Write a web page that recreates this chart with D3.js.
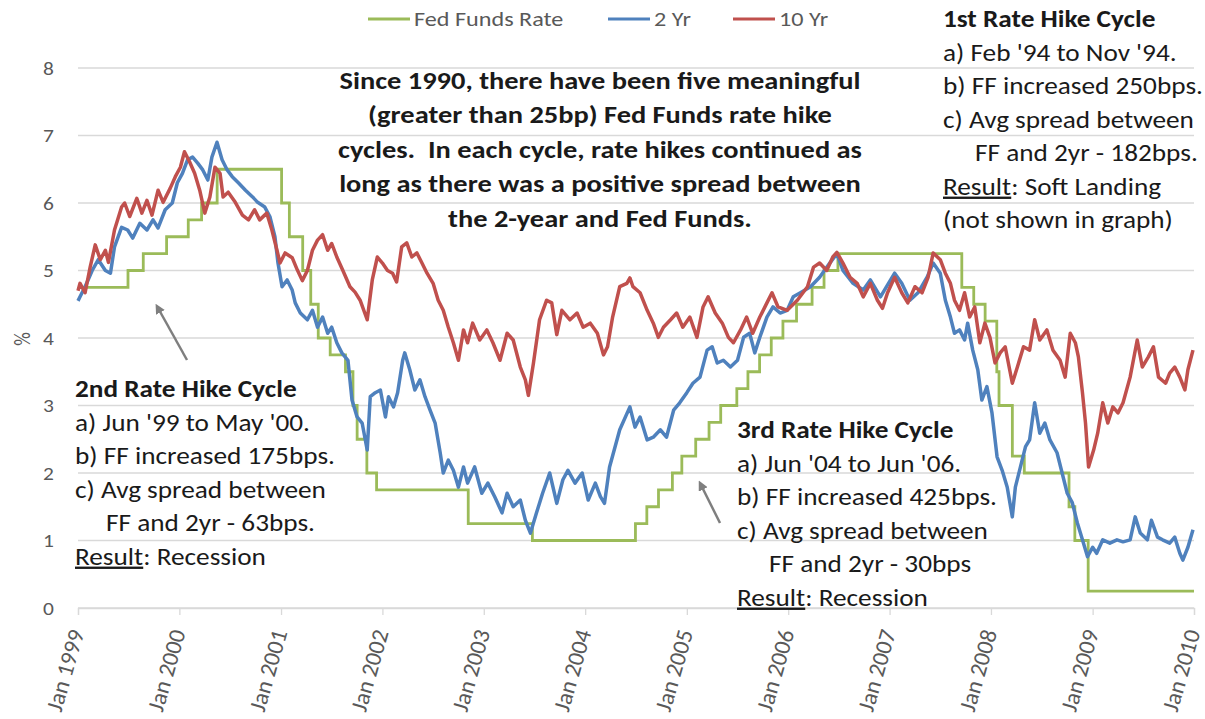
<!DOCTYPE html>
<html><head><meta charset="utf-8">
<script src="https://cdn.jsdelivr.net/npm/d3@7/dist/d3.min.js"></script>
<style>
body{margin:0;background:#fff;}
svg{display:block;font-family:Carlito,Calibri,Lato,sans-serif;}
svg text{white-space:pre;}
</style></head>
<body><svg id="c" width="1205" height="719"></svg>
<script>
// ---------- DATA ----------
const seriesNames = ["Fed Funds Rate", "2 Yr", "10 Yr"];
const yTicks = [0,1,2,3,4,5,6,7,8];
const xTickYears = [1999,2000,2001,2002,2003,2004,2005,2006,2007,2008,2009,2010];

// Fed Funds target changes (date, rate)
const ffDates = ["1999-01-01","1999-06-30","1999-08-24","1999-11-16","2000-02-02","2000-03-21","2000-05-16",
 "2001-01-03","2001-01-31","2001-03-20","2001-04-18","2001-05-15","2001-06-27","2001-08-21","2001-09-17",
 "2001-10-02","2001-11-06","2001-12-11","2002-11-06","2003-06-25","2004-06-30","2004-08-10","2004-09-21",
 "2004-11-10","2004-12-14","2005-02-02","2005-03-22","2005-05-03","2005-06-30","2005-08-09","2005-09-20",
 "2005-11-01","2005-12-13","2006-01-31","2006-03-28","2006-05-10","2006-06-29","2007-09-18","2007-10-31",
 "2007-12-11","2008-01-22","2008-01-30","2008-03-18","2008-04-30","2008-10-08","2008-10-29","2008-12-16","2010-01-01"];
const ffRates = [4.75,5.00,5.25,5.50,5.75,6.00,6.50,
 6.00,5.50,5.00,4.50,4.00,3.75,3.50,3.00,
 2.50,2.00,1.75,1.25,1.00,1.25,1.50,1.75,
 2.00,2.25,2.50,2.75,3.00,3.25,3.50,3.75,
 4.00,4.25,4.50,4.75,5.00,5.25,4.75,4.50,
 4.25,3.50,3.00,2.25,2.00,1.50,1.00,0.25,0.25];

// 2-year yield: time (decimal year) and value
const t2 = [1999.00,1999.02,1999.07,1999.14,1999.20,1999.27,1999.32,1999.36,1999.43,1999.49,1999.54,1999.61,1999.68,1999.74,1999.79,1999.86,1999.93,1999.98,
 2000.03,2000.08,2000.13,2000.18,2000.23,2000.28,2000.32,2000.37,2000.42,2000.47,2000.52,2000.58,2000.65,2000.72,2000.77,2000.84,2000.89,2000.94,2000.97,
 2001.01,2001.06,2001.11,2001.14,2001.19,2001.26,2001.31,2001.36,2001.41,2001.46,2001.50,2001.55,2001.60,2001.66,2001.70,2001.75,2001.80,2001.85,2001.88,2001.93,2001.98,
 2002.03,2002.06,2002.11,2002.15,2002.20,2002.22,2002.27,2002.32,2002.37,2002.42,2002.47,2002.52,2002.57,2002.60,2002.65,2002.70,2002.75,2002.80,2002.84,2002.91,2002.98,
 2003.04,2003.11,2003.18,2003.23,2003.29,2003.36,2003.41,2003.46,2003.52,2003.58,2003.65,2003.72,2003.78,2003.83,2003.90,2003.97,
 2004.03,2004.10,2004.15,2004.19,2004.24,2004.34,2004.44,2004.49,2004.54,2004.61,2004.67,2004.74,2004.80,2004.87,2004.93,
 2005.00,2005.06,2005.13,2005.20,2005.25,2005.30,2005.36,2005.43,2005.50,2005.56,2005.62,2005.67,2005.72,2005.79,2005.85,2005.92,2005.99,
 2006.05,2006.12,2006.22,2006.31,2006.41,2006.48,2006.54,2006.64,2006.74,2006.81,2006.91,2006.97,
 2007.05,2007.12,2007.20,2007.28,2007.37,2007.43,2007.50,2007.55,2007.60,2007.64,2007.69,2007.74,2007.77,2007.82,2007.87,2007.91,2007.96,
 2008.01,2008.06,2008.11,2008.16,2008.21,2008.24,2008.29,2008.34,2008.38,2008.43,2008.48,2008.53,2008.58,2008.65,2008.70,2008.75,2008.80,2008.85,2008.90,2008.95,
 2009.00,2009.04,2009.10,2009.17,2009.24,2009.30,2009.37,2009.42,2009.47,2009.54,2009.58,2009.64,2009.69,2009.76,2009.81,2009.86,2009.89,2009.94,2009.99];
const v2 = [4.55,4.61,4.76,5.00,5.16,5.00,4.96,5.35,5.64,5.60,5.48,5.70,5.60,5.75,5.63,5.90,6.00,6.30,
 6.44,6.64,6.68,6.59,6.49,6.34,6.68,6.90,6.64,6.49,6.39,6.30,6.19,6.09,6.01,5.94,5.80,5.50,5.11,
 4.76,4.86,4.71,4.52,4.37,4.27,4.41,4.16,4.31,4.07,4.16,3.93,3.78,3.67,3.08,2.83,2.74,2.34,3.13,3.19,3.23,
 2.83,3.13,2.98,3.19,3.67,3.78,3.53,3.23,3.38,3.13,2.93,2.74,2.30,2.00,2.19,2.04,1.79,2.09,1.85,2.09,1.70,
 1.85,1.64,1.41,1.70,1.50,1.60,1.30,1.11,1.41,1.70,2.00,1.55,1.90,2.04,1.85,2.00,
 1.60,1.85,1.65,1.55,2.09,2.64,2.98,2.68,2.83,2.49,2.53,2.64,2.53,2.93,3.04,
 3.19,3.33,3.42,3.82,3.87,3.63,3.67,3.57,3.67,4.01,4.07,3.78,4.01,4.31,4.46,4.37,4.41,
 4.61,4.67,4.76,4.90,5.11,5.25,5.00,4.81,4.71,4.86,4.61,4.76,
 4.96,4.81,4.56,4.67,4.90,5.11,4.96,4.56,4.31,4.07,4.12,3.97,4.22,3.82,3.53,3.08,3.28,
 2.89,2.24,2.04,1.79,1.35,1.79,2.09,2.39,2.49,3.04,2.59,2.74,2.49,2.30,2.00,1.70,1.56,1.26,1.01,0.76,
 0.90,0.81,1.01,0.96,1.01,0.98,1.01,1.35,1.11,1.01,1.30,1.05,1.01,0.96,1.05,0.81,0.71,0.90,1.16];

// 10-year yield: time (decimal year) and value
const t10 = [1999.00,1999.02,1999.07,1999.12,1999.17,1999.22,1999.27,1999.30,1999.36,1999.43,1999.46,1999.51,1999.58,1999.63,1999.68,1999.73,1999.79,1999.84,1999.91,1999.96,
 2000.01,2000.05,2000.10,2000.15,2000.20,2000.25,2000.30,2000.35,2000.40,2000.43,2000.48,2000.55,2000.62,2000.68,2000.74,2000.79,2000.86,2000.91,2000.96,2000.99,
 2001.04,2001.11,2001.16,2001.21,2001.26,2001.31,2001.36,2001.41,2001.46,2001.50,2001.55,2001.61,2001.68,2001.73,2001.78,2001.85,2001.90,2001.95,
 2002.00,2002.05,2002.10,2002.14,2002.19,2002.24,2002.29,2002.34,2002.39,2002.44,2002.50,2002.55,2002.60,2002.65,2002.70,2002.75,2002.80,2002.84,2002.89,2002.96,
 2003.03,2003.09,2003.16,2003.23,2003.29,2003.36,2003.41,2003.44,2003.49,2003.55,2003.62,2003.67,2003.72,2003.77,2003.85,2003.92,2003.98,
 2004.05,2004.12,2004.18,2004.22,2004.27,2004.34,2004.41,2004.44,2004.47,2004.54,2004.61,2004.67,2004.72,2004.77,2004.84,2004.90,2004.96,
 2005.03,2005.10,2005.16,2005.21,2005.28,2005.35,2005.41,2005.46,2005.53,2005.59,2005.65,2005.72,2005.79,2005.84,2005.90,2005.99,
 2006.09,2006.19,2006.25,2006.31,2006.38,2006.44,2006.48,2006.54,2006.61,2006.68,2006.74,2006.81,2006.88,2006.93,2006.98,
 2007.05,2007.12,2007.18,2007.25,2007.32,2007.38,2007.43,2007.50,2007.55,2007.60,2007.64,2007.69,2007.74,2007.79,2007.84,2007.89,2007.94,2007.99,
 2008.04,2008.09,2008.14,2008.21,2008.26,2008.32,2008.38,2008.43,2008.48,2008.55,2008.61,2008.68,2008.73,2008.78,2008.83,2008.86,2008.90,2008.93,2008.96,
 2009.01,2009.05,2009.10,2009.15,2009.20,2009.25,2009.30,2009.37,2009.44,2009.49,2009.55,2009.60,2009.65,2009.72,2009.76,2009.81,2009.86,2009.91,2009.94,2009.99];
const v10 = [4.70,4.81,4.67,5.05,5.38,5.16,5.30,5.12,5.60,5.94,6.00,5.80,6.07,5.85,6.04,5.82,6.19,6.01,6.22,6.39,
 6.53,6.76,6.61,6.44,6.19,5.85,6.09,6.53,6.44,6.09,6.16,6.01,5.82,5.75,5.90,5.75,5.85,5.60,5.30,5.11,
 5.26,5.19,5.01,4.85,5.00,5.30,5.45,5.53,5.30,5.40,5.20,5.00,4.76,4.68,4.56,4.27,4.86,5.20,
 5.11,5.00,4.96,4.83,5.35,5.41,5.20,5.26,5.11,4.96,4.81,4.56,4.41,4.16,3.93,3.67,4.12,3.93,4.22,3.97,
 4.12,3.93,3.67,4.07,3.97,3.57,3.38,3.15,3.63,4.27,4.56,4.52,4.05,4.41,4.27,4.37,4.16,
 4.22,4.07,3.75,3.87,4.31,4.76,4.81,4.89,4.76,4.67,4.41,4.22,4.01,4.16,4.27,4.37,4.16,
 4.31,4.01,4.46,4.61,4.37,4.22,4.01,3.93,4.12,4.31,4.07,4.31,4.52,4.67,4.46,4.41,
 4.56,4.76,5.05,5.11,5.00,5.20,5.27,5.11,4.90,4.81,4.61,4.81,4.56,4.44,4.67,
 4.90,4.67,4.52,4.76,4.67,4.90,5.26,5.16,4.96,4.81,4.56,4.41,4.67,4.31,4.46,3.93,4.22,4.01,
 3.63,3.78,3.87,3.33,3.57,3.87,3.82,4.27,3.97,4.12,3.82,3.67,3.42,4.07,3.93,3.72,3.19,2.74,2.09,
 2.34,2.59,3.04,2.74,2.98,2.89,3.04,3.42,3.97,3.57,3.72,3.87,3.42,3.33,3.48,3.57,3.42,3.23,3.53,3.82];

// ---------- ANNOTATION TEXT ----------
const mainNote = ["Since 1990, there have been five meaningful","(greater than 25bp) Fed Funds rate hike",
 "cycles.  In each cycle, rate hikes continued as","long as there was a positive spread between","the 2-year and Fed Funds."];
const cycle1 = {title:"1st Rate Hike Cycle", lines:["a) Feb '94 to Nov '94.","b) FF increased 250bps.","c) Avg spread between","FF and 2yr - 182bps."], result:"Soft Landing", extra:"(not shown in graph)"};
const cycle2 = {title:"2nd Rate Hike Cycle", lines:["a) Jun '99 to May '00.","b) FF increased 175bps.","c) Avg spread between","FF and 2yr - 63bps."], result:"Recession"};
const cycle3 = {title:"3rd Rate Hike Cycle", lines:["a) Jun '04 to Jun '06.","b) FF increased 425bps.","c) Avg spread between","FF and 2yr - 30bps"], result:"Recession"};

// ---------- DRAW ----------
const colors = ["#9BBB59","#4F81BD","#C0504D"];
const SX = 1.16;           // horizontal stretch of the reference's lettering
const FONT = "Carlito,Calibri,Lato,sans-serif";
const svg = d3.select("#c");
const W=1205, H=719;
const m = {l:78, r:W-1194, t:68, b:H-608};
const parse = d3.timeParse("%Y-%m-%d");
function dy(t){const y=Math.floor(t+1e-9), f=t-y; const a=new Date(y,0,1), b=new Date(y+1,0,1); return new Date(+a + f*(b-a));}

function T(g, x0, y0, str, o){
  o = o||{};
  const t = g.append("text").attr("transform",`translate(${x0},${y0}) scale(${o.sx||SX},1)`)
    .attr("dy","0.35em").attr("text-anchor",o.anchor||"start")
    .attr("fill",o.fill||"#1a1a1a").attr("font-weight",o.bold?"bold":"normal")
    .style("font-size",(o.size||23.5)+"px").style("font-family",FONT);
  if(str!==null) t.text(str);
  return t;
}

const x = d3.scaleTime().domain([new Date(1999,0,1), new Date(2010,0,1)]).range([m.l, W-m.r]);
const y = d3.scaleLinear().domain([0,8]).range([H-m.b, m.t]);

// gridlines
svg.append("g").selectAll("line").data(yTicks).join("line")
  .attr("x1", x.range()[0]).attr("x2", x.range()[1])
  .attr("y1", d=>y(d)).attr("y2", d=>y(d))
  .attr("stroke", "#d9d9d9").attr("stroke-width", 1.3);

// y axis labels
const yAxis = d3.axisLeft(y).tickValues(yTicks).tickSize(0).tickPadding(0).tickFormat(d3.format("d"));
const gy = svg.append("g").attr("transform", `translate(${m.l-24},0)`).call(yAxis);
gy.select(".domain").remove();
gy.selectAll("text").attr("fill","#595959").attr("x",null).attr("dy","0.35em")
  .attr("transform",`scale(${SX},1)`)
  .style("font-size","18.5px").style("font-family",FONT);

T(svg, 22, y(4)+1, "%", {fill:"#595959", size:19, anchor:"middle", sx:1}).attr("transform",`translate(22,${y(4)+1}) rotate(-90) scale(1,${SX})`);

// x axis
const xAxis = d3.axisBottom(x).tickValues(xTickYears.map(yr=>new Date(yr,0,1))).tickSize(7).tickFormat(d3.timeFormat("Jan %Y"));
const gx = svg.append("g").attr("transform", `translate(0,${y(0)})`).call(xAxis);
gx.select(".domain").attr("stroke","#d9d9d9").attr("stroke-width",1.3);
gx.selectAll(".tick line").attr("stroke","#d9d9d9").attr("stroke-width",1.3);
gx.selectAll(".tick text").attr("fill","#595959").style("font-size","23.5px").style("font-family",FONT)
  .attr("text-anchor","end").attr("transform","translate(-2,22) rotate(-74)").attr("x",0).attr("y",0).attr("dy","0.35em");

// lines
const ffData = ffDates.map((d,i)=>({d:parse(d), v:ffRates[i]}));
const d2 = t2.map((t,i)=>({d:dy(t), v:v2[i]}));
const d10 = t10.map((t,i)=>({d:dy(t), v:v10[i]}));
const lineStep = d3.line().x(p=>x(p.d)).y(p=>y(p.v)).curve(d3.curveStepAfter);
const line = d3.line().x(p=>x(p.d)).y(p=>y(p.v));
const plot = svg.append("g");
plot.append("path").datum(ffData).attr("d", lineStep).attr("fill","none").attr("stroke",colors[0]).attr("stroke-width",2.8);
plot.append("path").datum(d2).attr("d", line).attr("fill","none").attr("stroke",colors[1]).attr("stroke-width",3.5).attr("stroke-linejoin","round");
plot.append("path").datum(d10).attr("d", line).attr("fill","none").attr("stroke",colors[2]).attr("stroke-width",3.5).attr("stroke-linejoin","round");

// legend
const legX = [368, 608, 733];
const lg = svg.append("g");
seriesNames.forEach((n,i)=>{
  lg.append("line").attr("x1",legX[i]).attr("x2",legX[i]+42).attr("y1",19).attr("y2",19).attr("stroke",colors[i]).attr("stroke-width",3);
  T(lg, legX[i]+46, 19, n, {fill:"#595959", size:19.5, sx:1.24});
});

// main note
const mn = svg.append("g");
mainNote.forEach((s,i)=>{
  T(mn, 600, 80+i*34.5, s, {anchor:"middle", bold:true, size:24.5});
});

function cycleBlock(c, x0, y0, indent){
  const g = svg.append("g");
  const lh = 33.5;
  T(g, x0, y0, c.title, {bold:true});
  c.lines.forEach((s,i)=>{ T(g, i===3? x0+indent : x0, y0+(i+1)*lh, s); });
  const rt = T(g, x0, y0+5*lh, null);
  rt.append("tspan").style("text-decoration","underline").text("Result");
  rt.append("tspan").text(": "+c.result);
  if(c.extra) T(g, x0, y0+6*lh, c.extra);
}
cycleBlock(cycle1, 943, 19, 32);
cycleBlock(cycle2, 75, 389, 31);
cycleBlock(cycle3, 737, 430, 32);

// arrows
svg.append("defs").append("marker").attr("id","ah").attr("viewBox","0 0 10 10").attr("refX",5).attr("refY",5)
  .attr("markerWidth",4).attr("markerHeight",4).attr("orient","auto")
  .append("path").attr("d","M0,0 L10,5 L0,10 z").attr("fill","#7f7f7f");
const arrows = [[187,360,158,308],[720,523,701,485]];
svg.append("g").selectAll("line").data(arrows).join("line")
  .attr("x1",d=>d[0]).attr("y1",d=>d[1]).attr("x2",d=>d[2]).attr("y2",d=>d[3])
  .attr("stroke","#7f7f7f").attr("stroke-width",2.5).attr("marker-end","url(#ah)");
</script></body></html>
